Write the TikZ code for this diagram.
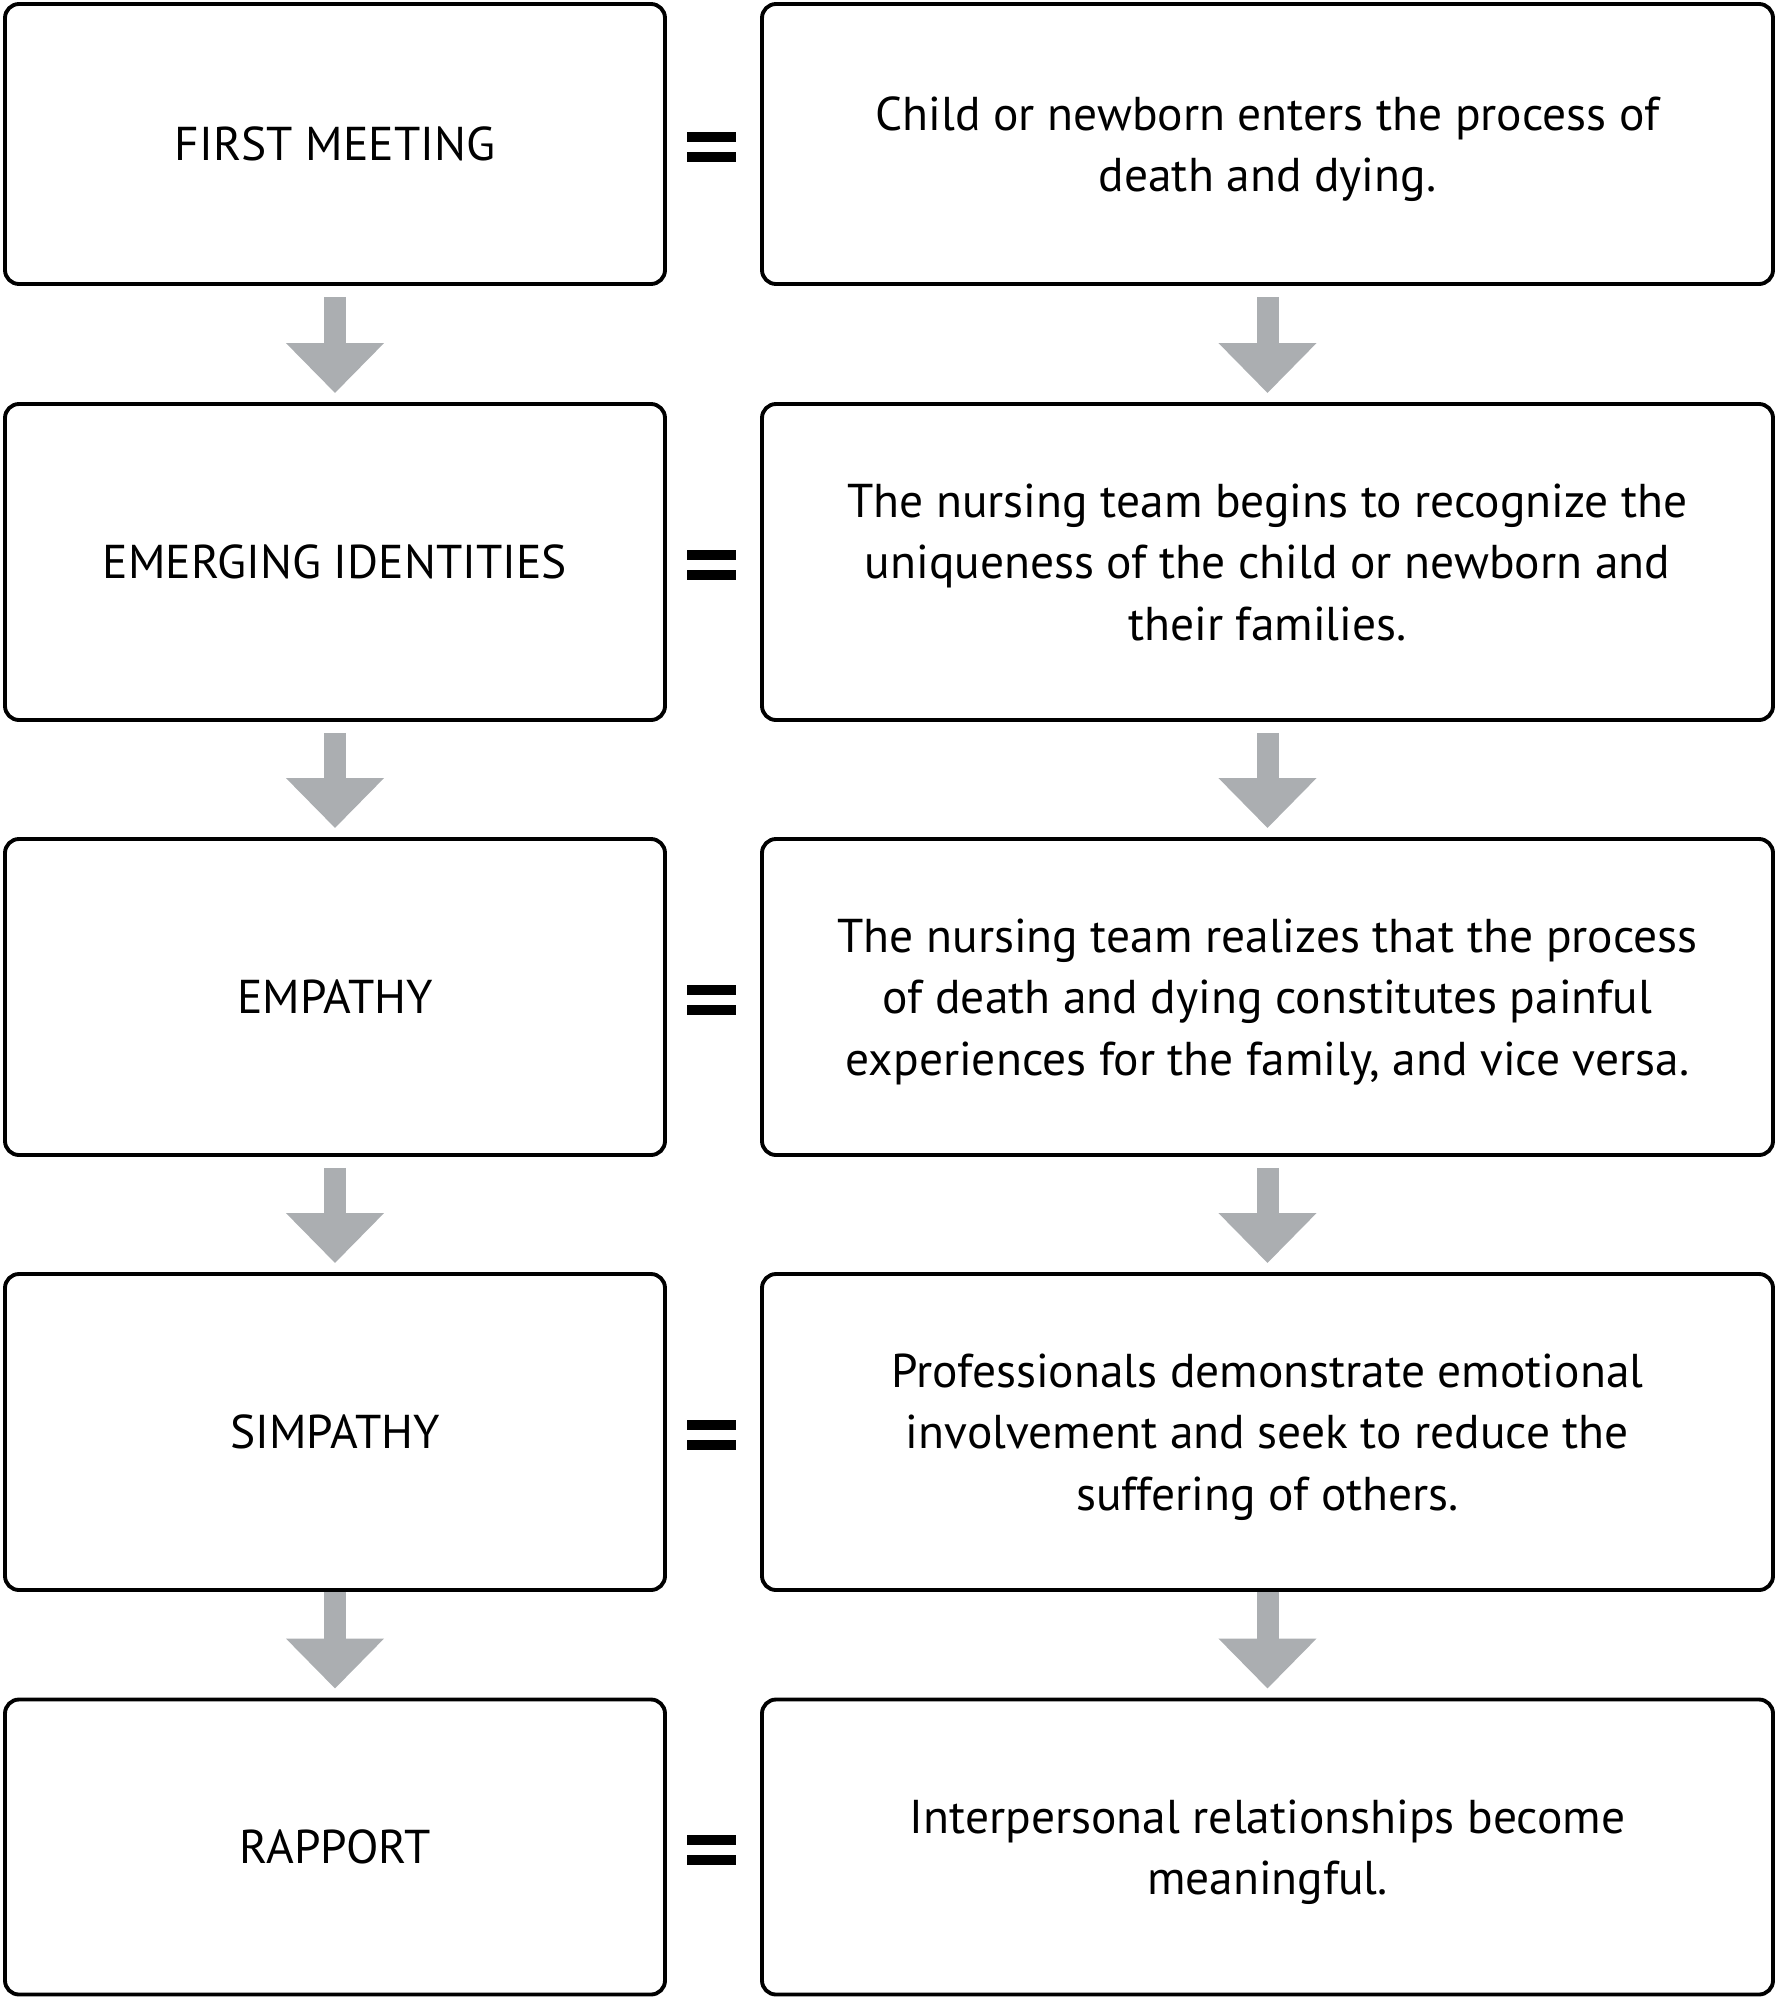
\documentclass[tikz,border=0pt]{standalone}
\usepackage{fontspec}
\setmainfont{PT Sans}
\usetikzlibrary{arrows.meta}
\definecolor{arrowgray}{RGB}{171,174,177}
\tikzset{
  stagebox/.style={draw, line width=1.1pt, rounded corners=0.14cm, text depth=0pt,
    minimum width=6.6cm, align=center, font=\fontsize{13.5}{17.5}\selectfont},
  descbox/.style={stagebox, minimum width=10.11cm},
  eqsign/.style={minimum width=0.49cm, minimum height=0.30cm, inner sep=0pt,
    draw=none, fill=white,
    path picture={
      \fill[black] (path picture bounding box.north west) rectangle
        ([yshift=-0.1cm]path picture bounding box.north east);
      \fill[black] ([yshift=0.1cm]path picture bounding box.south west) rectangle
        (path picture bounding box.south east);}},
  downarrow/.style={draw=arrowgray, line width=0.22cm,
    -{Triangle[width=0.95cm,length=0.5cm]}, shorten <=0.11cm, shorten >=0.09cm}
}
\begin{document}
\begin{tikzpicture}
  \useasboundingbox (0,0) rectangle (17.78,-20);
  % left column
  \node[stagebox, minimum height=2.8cm]  (s1) at (3.35,-1.44)  {FIRST MEETING};
  \node[stagebox, minimum height=3.16cm] (s2) at (3.35,-5.62)  {EMERGING IDENTITIES};
  \node[stagebox, minimum height=3.16cm] (s3) at (3.35,-9.97)  {EMPATHY};
  \node[stagebox, minimum height=3.16cm] (s4) at (3.35,-14.32) {SIMPATHY};
  \node[stagebox, minimum height=2.95cm] (s5) at (3.35,-18.47) {RAPPORT};
  % right column
  \node[descbox, minimum height=2.8cm]  (d1) at (12.675,-1.44)
    {Child or newborn enters the process of\\death and dying.};
  \node[descbox, minimum height=3.16cm] (d2) at (12.675,-5.62)
    {The nursing team begins to recognize the\\uniqueness of the child or newborn and\\their families.};
  \node[descbox, minimum height=3.16cm] (d3) at (12.675,-9.97)
    {The nursing team realizes that the process\\of death and dying constitutes painful\\experiences for the family, and vice versa.};
  \node[descbox, minimum height=3.16cm] (d4) at (12.675,-14.32)
    {Professionals demonstrate emotional\\involvement and seek to reduce the\\suffering of others.};
  \node[descbox, minimum height=2.95cm] (d5) at (12.675,-18.47)
    {Interpersonal relationships become\\meaningful.};
  % equals signs
  \node[eqsign] (e1) at (7.115,-1.47)  {};
  \node[eqsign] (e2) at (7.115,-5.65)  {};
  \node[eqsign] (e3) at (7.115,-10.0)  {};
  \node[eqsign] (e4) at (7.115,-14.35) {};
  \node[eqsign] (e5) at (7.115,-18.5)  {};
  % arrows
  \draw[downarrow] (s1) -- (s2);
  \draw[downarrow] (s2) -- (s3);
  \draw[downarrow] (s3) -- (s4);
  \draw[downarrow, shorten <=0pt] (s4) -- (s5);
  \draw[downarrow] (d1) -- (d2);
  \draw[downarrow] (d2) -- (d3);
  \draw[downarrow] (d3) -- (d4);
  \draw[downarrow, shorten <=0pt] (d4) -- (d5);
\end{tikzpicture}
\end{document}
